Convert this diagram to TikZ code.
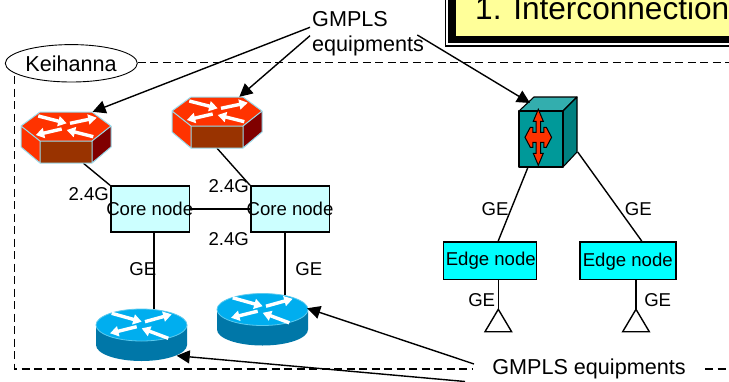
\documentclass[tikz,border=0pt]{standalone}
\usepackage{fontspec}
\setmainfont{Liberation Sans}
\usetikzlibrary{shapes.geometric,arrows.meta,calc}
\definecolor{titley}{HTML}{FFFF99}
\definecolor{corec}{HTML}{CCFFFF}
\definecolor{edgec}{HTML}{00FFFF}
\definecolor{redtop}{HTML}{FF3300}
\definecolor{redfront}{HTML}{993300}
\definecolor{redside}{HTML}{800000}
\definecolor{hexline}{HTML}{99DDEE}
\definecolor{bluetop}{HTML}{00AEEF}
\definecolor{blueside}{HTML}{0077A8}
\definecolor{cubefront}{HTML}{009999}
\definecolor{cubetop}{HTML}{33AEAE}
\definecolor{cubeside}{HTML}{008080}
\newcommand{\labfont}{\fontsize{18.6}{20}\selectfont}
\tikzset{
  lab/.style={anchor=base,inner sep=0pt,font=\labfont},
  bigtext/.style={inner sep=0pt,font=\fontsize{21.6}{25.7}\selectfont},
  corebox/.style={draw=black,line width=1.5pt,fill=corec,minimum width=78.5pt,minimum height=46pt,inner sep=0pt},
  edgebox/.style={draw=black,line width=1.5pt,fill=edgec,minimum height=37.5pt,inner sep=0pt},
  ghost/.style={inner sep=0pt,minimum width=#1},
  wire/.style={draw=black,line width=1.4pt},
  pointer/.style={draw=black,line width=1.4pt,-{Triangle[length=13pt,width=13pt]}},
  frame/.style={draw=black,line width=1.5pt,dash pattern=on 8pt off 4.5pt},
  warrow/.style={white,line width=3.4pt,-{Triangle[length=8.5pt,width=10pt]}},
}
\newcommand{\redrouter}{%
  \fill[redtop] (21,126)--(40,112)--(92,112)--(111,126)--(111,147)--(92,163)--(40,163)--(21,147)--cycle;
  \fill[redside] (92,141)--(111,126)--(111,147)--(92,163)--cycle;
  \fill[redfront] (40,141) rectangle (92,163);
  \draw[hexline,line width=1pt,line join=round] (21,126)--(40,112)--(92,112)--(111,126)--(111,147)--(92,163)--(40,163)--(21,147)--cycle
    (21,126)--(40,141)--(92,141)--(111,126) (40,141)--(40,163) (92,141)--(92,163);
  \foreach \ax/\ay/\bx/\by in {38.3/116/66.7/123.3, 70/123.3/96.7/117.7, 61.7/129/35.7/135, 93.3/136.7/66.7/130}{
    \draw[warrow] (\ax,\ay) -- (\bx,\by);
  }%
}
\newcommand{\bluerouter}{%
  \fill[blueside] (96,325) -- (96,345) arc[start angle=180,end angle=360,x radius=45.5pt,y radius=16pt] -- (187,325) -- cycle;
  \draw[hexline!60!bluetop,line width=0.8pt,fill=bluetop] (141.5,325) ellipse[x radius=45.5pt,y radius=16pt];
  \foreach \ax/\ay/\bx/\by in {111.7/313.3/141.7/321.7, 145/321.7/171.7/314.3, 136.7/326.7/110/333.3, 168.3/338.3/141.7/328.3}{
    \draw[warrow] (\ax,\ay) -- (\bx,\by);
  }%
}
\begin{document}
\begin{tikzpicture}[x=1pt,y=-1pt]
\clip (0,0) rectangle (729,381);
\fill[white] (0,0) rectangle (729,381);

% title plate, cut by the page edge
\draw[black,line width=1.6pt,fill=white] (445.5,-20) rectangle (760,46);
\fill[black] (448,-20) rectangle (760,42.5);
\fill[titley] (456,-20) rectangle (760,35.5);
\node[anchor=base west,inner sep=0pt,font=\fontsize{31.6}{33}\selectfont] (title) at (475,19) {1. Interconnection};

% dashed site frame
\node[draw=black,line width=0.9pt,ellipse,fill=white,minimum width=132pt,minimum height=37.4pt,inner sep=0pt] (kei) at (71.3,63.3) {};
\node[bigtext,fill=white,anchor=base,inner ysep=3pt,minimum width=232pt] (gb) at (589,374) {GMPLS equipments};
\coordinate (ftl) at (14.7,76);
\coordinate (fbl) at (14.7,369);
\coordinate (ftr) at (735,62.3);
\coordinate (fbr) at (735,369);
\draw[frame] (kei.east |- ftr) -- (ftr);
\draw[frame] (ftl) -- (fbl) -- (fbl -| gb.west);
\draw[frame] (fbl -| gb.east) -- (fbr);
\node[anchor=base,inner sep=0pt,font=\fontsize{21.6}{23}\selectfont] (keitext) at (71,71.7) {Keihanna};

% device footprints
\node[ghost=90pt,minimum height=51pt] (r1) at (66,137.5) {};
\node[ghost=90pt,minimum height=51pt] (r2) at (217,122.5) {};
\node[ghost=91pt,minimum height=52pt] (b1) at (141.5,335) {};
\node[ghost=90pt,minimum height=53pt] (b2) at (262,319.5) {};
\node[ghost=58pt,minimum height=70pt] (sw) at (548,132) {};

% nodes
\node[corebox] (core1) at (150,209) {};
\node[corebox] (core2) at (290,209) {};
\node[edgebox,minimum width=93pt] (edge1) at (490.2,260.5) {};
\node[edgebox,minimum width=96pt] (edge2) at (628,260.5) {};
\coordinate (t1) at (498.3,309.3);
\coordinate (t2) at (636,309.3);

% wires
\draw[wire] (r1.-56) -- (core1.north west);
\draw[wire] (r2.south) -- (core2.north west);
\draw[wire] (core1.east) -- (core2.west);
\draw[wire] ($(core1.south)+(4,0)$) coordinate (c1d) -- (c1d |- b1.north);
\draw[wire] ($(core2.south)+(-5,0)$) coordinate (c2d) -- ($(c2d |- b2.north)+(0,2)$);
\draw[wire] ($(sw.south)+(-20,0)$) -- ($(edge1.north)+(8,0)$) coordinate (e1t);
\draw[wire] ($(sw.east)+(0.5,20)$) -- ($(edge2.north)+(13.7,0)$);
\draw[wire] ($(edge1.south)+(8.1,0)$) -- (t1);
\draw[wire] (edge2.south -| t2) -- (t2);
\draw[wire,line join=miter,fill=white] (t1) -- ++(-13.3,22.4) -- ++(26.6,0) -- cycle;
\draw[wire,line join=miter,fill=white] (t2) -- ++(-13.3,22.4) -- ++(26.6,0) -- cycle;

% device art
\redrouter
\begin{scope}[shift={(151,-15)}]\redrouter\end{scope}
\bluerouter
\begin{scope}[shift={(121,-15.5)}]\bluerouter\end{scope}

% optical switch
\draw[black,line width=1.1pt,line join=round,fill=cubetop] (519,111)--(534,97)--(577,97)--(563,111)--cycle;
\draw[black,line width=1.1pt,line join=round,fill=cubeside] (563,111)--(577,97)--(577,152)--(563,167)--cycle;
\draw[black,line width=1.1pt,line join=round,fill=cubefront] (519,111) rectangle (563,167);
\draw[black,line width=1pt,line join=miter,fill=redtop,shift={(538.3,137.3)}]
  (0,-28)--(5,-16)--(2.2,-16)--(2.2,-5)--(5.5,-5)--(5.5,-10)--(8,-10)--(13.3,0)--(8,10)--(5.5,10)--(5.5,5)--(2.2,5)--(2.2,16)--(5,16)
  --(0,28)--(-5,16)--(-2.2,16)--(-2.2,5)--(-5.5,5)--(-5.5,10)--(-8,10)--(-13.3,0)--(-8,-10)--(-5.5,-10)--(-5.5,-5)--(-2.2,-5)--(-2.2,-16)--(-5,-16)--cycle;

% node texts over the wires
\node[inner sep=0pt,font=\labfont] (core1t) at (149.7,209.3) {Core node};
\node[inner sep=0pt,font=\labfont] (core2t) at (290,209.3) {Core node};
\node[inner sep=0pt,font=\labfont] (edge1t) at (490.8,260.7) {Edge node};
\node[inner sep=0pt,font=\labfont] (edge2t) at (627.8,261.5) {Edge node};

% labels
\node[lab] (l1) at (88.7,200) {2.4G};
\node[lab] (l2) at (228.7,192) {2.4G};
\node[lab] (l3) at (228.7,245) {2.4G};
\node[lab] (g1) at (142.8,275) {GE};
\node[lab] (g2) at (308.8,275) {GE};
\node[lab] (g3) at (495,215) {GE};
\node[lab] (g4) at (638.3,215) {GE};
\node[lab] (g5) at (481.7,306) {GE};
\node[lab] (g6) at (657.7,306) {GE};
\node[bigtext,align=left,anchor=base west] (gt) at (312,51.7) {GMPLS\\equipments};

% pointers
\coordinate (ga) at (310,27.3);
\coordinate (gc) at (310,35.7);
\coordinate (gd) at (417.3,35);
\coordinate (he) at (474,364);
\coordinate (hf) at (465,381.5);
\draw[pointer] (ga) -- (r1.44);
\draw[pointer] (gc) -- (r2.49);
\draw[pointer] (gd) -- ($(sw.center)+(-18,-29)$);
\draw[pointer] (he) -- (b2.14);
\draw[pointer] (hf) -- ($(b1.center)+(35.2,20.7)$);
\end{tikzpicture}
\end{document}
